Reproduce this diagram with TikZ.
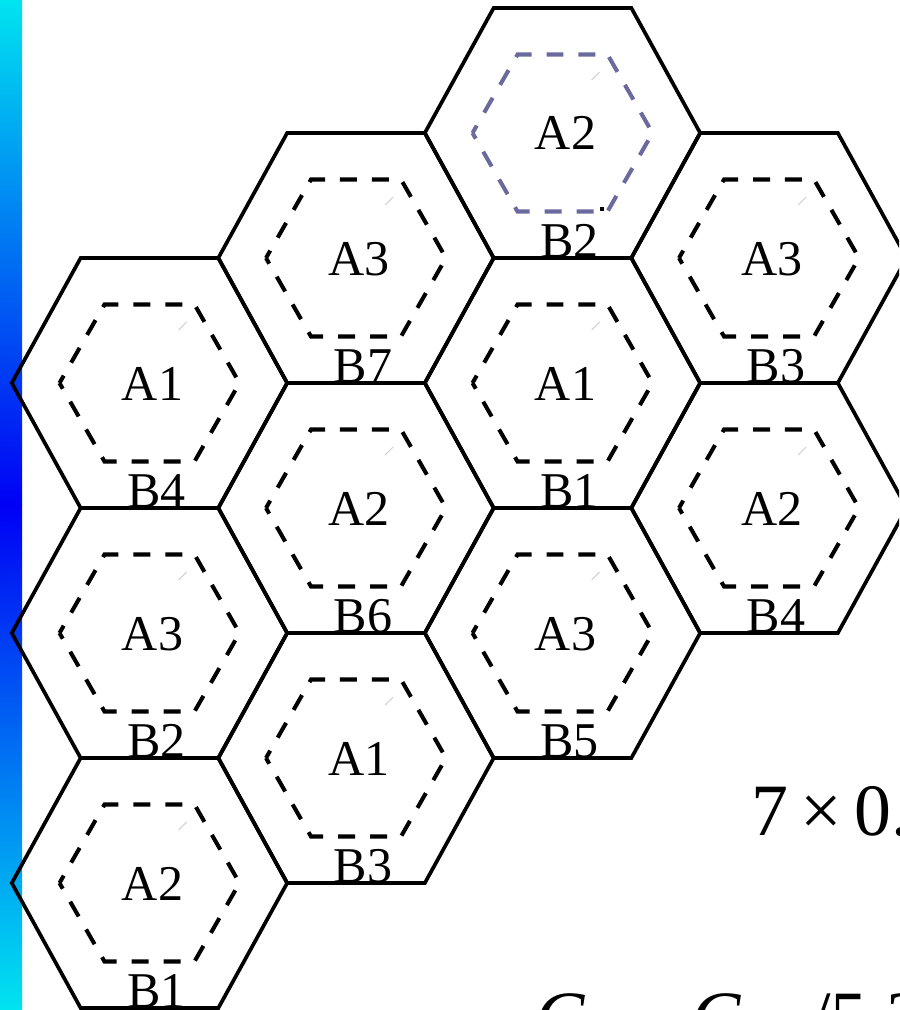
\documentclass[tikz,border=0pt]{standalone}
\usepackage{fontspec}
\setmainfont{Liberation Serif}
\usetikzlibrary{calc}
\definecolor{barcyan}{RGB}{0,228,240}
\definecolor{barblue}{RGB}{0,0,245}
\definecolor{slate}{RGB}{106,106,158}
\tikzset{cell/.style={line width=2.1pt, line join=miter}}
\tikzset{reuse/.style={line width=2.3pt, dash pattern=on 0.34cm off 0.3cm, dash phase=0.17cm}}
\tikzset{l/.style={font=\fontsize{28.5}{28.5}\selectfont, inner sep=0pt}}
\tikzset{m/.style={font=\fontsize{42}{42}\selectfont, inner sep=0pt}}

\begin{document}
\begin{tikzpicture}[x=0.02cm,y=-0.02cm]
  \useasboundingbox (0,0) rectangle (899,1010);
  \clip (0,0) rectangle (899,1010);
  \shade[top color=barcyan,bottom color=barblue] (0,0) rectangle (22,505);
  \shade[top color=barblue,bottom color=barcyan] (0,505) rectangle (22,1010);
  \foreach \cx/\cy/\a/\b/\n/\c in {149.5/383/A1/B4/1/black, 149.5/633/A3/B2/2/black,
      149.5/883/A2/B1/3/black, 356/258/A3/B7/4/black, 356/508/A2/B6/5/black,
      356/758/A1/B3/6/black, 562.5/133/A2/B2/7/slate, 562.5/383/A1/B1/8/black,
      562.5/633/A3/B5/9/black, 769/258/A3/B3/10/black, 769/508/A2/B4/11/black}{
    \begin{scope}[shift={(\cx,\cy)}]
      \draw[cell] (-137.7,0) -- (-68.85,-125) -- (68.85,-125) -- (137.7,0)
        -- (68.85,125) -- (-68.85,125) -- cycle;
      \draw[reuse,\c] (-90,0) -- (-45,-78.5) -- (45,-78.5) -- (90,0)
        -- (45,78.5) -- (-45,78.5) -- cycle;
      \draw[gray!35, line width=0.6pt] (29,-53) -- (37,-61);
      \node[l, anchor=base] (a\n) at (3,17) {\a};
      \node[l, anchor=base] (b\n) at (7,124) {\b};
    \end{scope}
  }
  \fill (600,207) rectangle (604,211);
  \node[m, anchor=base west] (factor) at (751,835) {7\,×\,0.};
  \node[m, anchor=base west, font=\fontsize{42}{42}\selectfont\itshape] (cone) at (535,1042) {C};
  \node[m, anchor=base west, font=\fontsize{42}{42}\selectfont\itshape] (ctwo) at (691,1042) {C};
  \node[m, anchor=base west] (ratio) at (810,1042) {/5.3};
\end{tikzpicture}
\end{document}
